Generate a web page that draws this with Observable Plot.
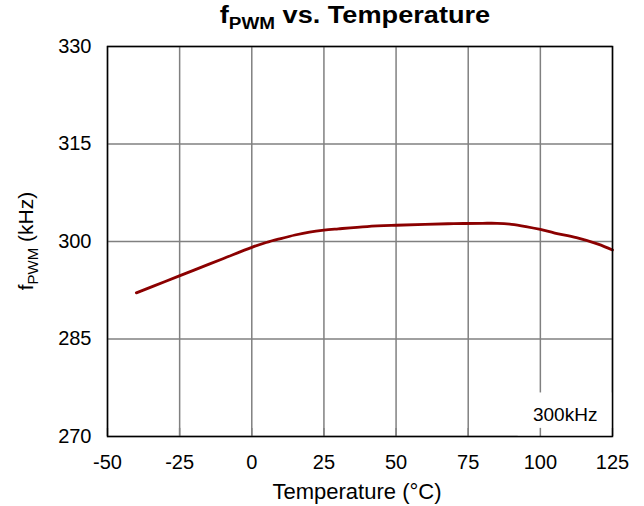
<!DOCTYPE html>
<html>
<head>
<meta charset="utf-8">
<script src="https://cdn.jsdelivr.net/npm/d3@7"></script>
<script src="https://cdn.jsdelivr.net/npm/@observablehq/plot@0.6"></script>
<style>
  html, body { margin: 0; padding: 0; background: #fff; }
  #wrap { position: relative; width: 644px; height: 506px; font-family: "Liberation Sans", Arial, sans-serif; }
  #title { position: absolute; left: 355px; top: 2px; transform: translateX(-50%) scaleX(1.18); white-space: nowrap; font-weight: bold; font-size: 23px; color: #000; }
  #title sub { font-size: 16px; vertical-align: -6px; }
  #chart { position: absolute; left: 0; top: 0; }
</style>
</head>
<body>
<div id="wrap">
  <div id="chart"></div>
  <div id="title">f<sub>PWM</sub> vs. Temperature</div>
</div>
<script>
const temperature = [-40, -30, -20, -10, 0, 5, 10, 15, 20, 25, 30, 40, 50, 60, 70, 80, 85, 90, 95, 100, 105, 112.5, 120, 125];
const fpwm = [292.1, 293.85, 295.6, 297.35, 299.1, 299.85, 300.45, 301.0, 301.45, 301.75, 301.95, 302.3, 302.5, 302.65, 302.75, 302.8, 302.8, 302.65, 302.3, 301.85, 301.3, 300.6, 299.6, 298.7];
const xTicks = [-50, -25, 0, 25, 50, 75, 100, 125];
const yTicks = [270, 285, 300, 315, 330];
const legendLabel = "300kHz";

const data = temperature.map((t, i) => ({t, f: fpwm[i]}));

const plot = Plot.plot({
  width: 644,
  height: 506,
  marginLeft: 107,
  marginRight: 32,
  marginTop: 46,
  marginBottom: 70,
  style: {fontFamily: "Liberation Sans, Arial, sans-serif", fontSize: "20px", color: "#000", background: "#fff"},
  x: {domain: [-50, 125]},
  y: {domain: [270, 330]},
  marks: [
    Plot.ruleX(xTicks, {stroke: "#808080", strokeWidth: 1.5}),
    Plot.ruleY(yTicks, {stroke: "#808080", strokeWidth: 1.5}),
    Plot.rect([{x1: 92.3, x2: 125, y1: 270, y2: 276.7}], {x1: "x1", x2: "x2", y1: "y1", y2: "y2", fill: "#fff"}),
    Plot.ruleX(xTicks, {y1: 270, y2: 271.25, stroke: "#808080", strokeWidth: 1.5}),
    Plot.text([legendLabel], {x: 108.6, y: 273.3, text: d => d, fontSize: 19, fill: "#000"}),
    Plot.line(data, {x: "t", y: "f", stroke: "#8b0000", strokeWidth: 2.8, curve: "catmull-rom"}),
    Plot.frame({stroke: "#000", strokeWidth: 1.5}),
    Plot.axisX(xTicks, {tickSize: 0, tickPadding: 18, label: null, fontSize: 20, tickFormat: d => String(d)}),
    Plot.axisY(yTicks, {tickSize: 0, tickPadding: 16, label: null, fontSize: 20, tickFormat: d => String(d)})
  ]
});

document.getElementById("chart").appendChild(plot);

const svg = d3.select(plot);
// x axis title
svg.append("text")
  .attr("x", 357).attr("y", 499)
  .attr("text-anchor", "middle")
  .attr("font-size", 22)
  .attr("fill", "#000")
  .text("Temperature (°C)");
// y axis title with subscript
const yl = svg.append("text")
  .attr("transform", "translate(33,241) rotate(-90)")
  .attr("text-anchor", "middle")
  .attr("font-size", 21)
  .attr("fill", "#000");
yl.append("tspan").text("f");
yl.append("tspan").attr("font-size", 15).attr("dy", 5).text("PWM");
yl.append("tspan").attr("dy", -5).text(" (kHz)");
</script>
</body>
</html>
